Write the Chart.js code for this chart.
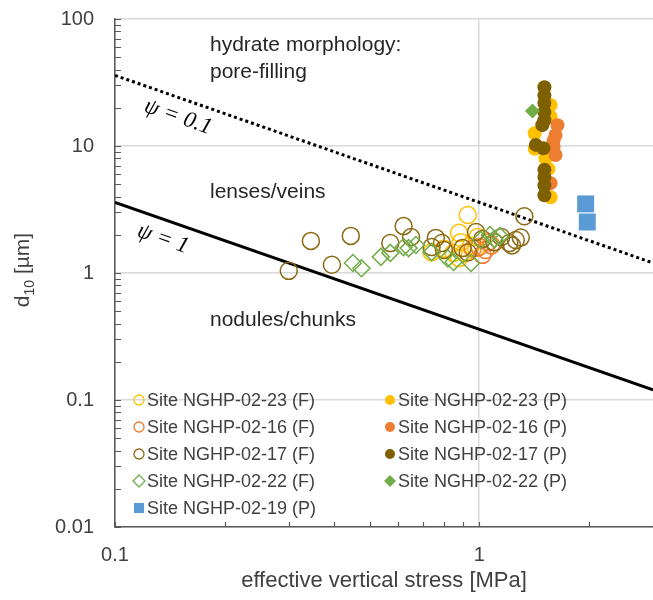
<!DOCTYPE html>
<html>
<head>
<meta charset="utf-8">
<script src="https://cdn.jsdelivr.net/npm/chart.js@4"></script>
<style>
  html, body { margin: 0; padding: 0; background: #fff; overflow: hidden; }
  #chart { display: block; }
</style>
</head>
<body>
<canvas id="chart" width="653" height="600"></canvas>
<script>
// [effective vertical stress (MPa), d10 (um)]
const site23F = [[0.93, 2.86], [0.88, 2.07], [0.89, 1.75], [0.74, 1.46], [0.85, 1.44], [0.88, 1.31],
                 [0.91, 1.44], [0.99, 1.92], [0.98, 1.57], [0.80, 1.55], [0.95, 1.65]];
const site23P = [[1.57, 21], [1.57, 17], [1.42, 12.6], [1.42, 9.5], [1.52, 8.0], [1.55, 6.6], [1.57, 3.95], [1.52, 5.0]];
const site16F = [[0.96, 1.55], [1.0, 1.6], [1.04, 1.52], [1.06, 1.75], [1.02, 1.39], [1.08, 1.65]];
const site16P = [[1.64, 14.6], [1.62, 12.2], [1.60, 9.8], [1.62, 8.5], [1.57, 5.1], [1.60, 11]];
const site17F = [[0.30, 1.04], [0.345, 1.79], [0.394, 1.16], [0.444, 1.96], [0.62, 2.34], [0.57, 1.72],
                 [0.65, 1.92], [0.76, 1.89], [0.79, 1.72], [0.74, 1.6], [0.80, 1.52], [0.90, 1.57],
                 [0.98, 2.1], [0.93, 1.45], [1.15, 1.92], [1.21, 1.72], [1.26, 1.82], [1.33, 2.8],
                 [1.30, 1.90], [1.23, 1.65], [1.10, 1.75], [1.02, 1.85]];
const site17P = [[1.51, 29], [1.51, 25], [1.51, 21.8], [1.51, 18.5], [1.51, 16], [1.49, 14.6], [1.43, 10.2],
                 [1.50, 9.6], [1.51, 6.5], [1.51, 5.7], [1.51, 4.9], [1.51, 4.1]];
const site22F = [[0.45, 1.2], [0.475, 1.09], [0.537, 1.34], [0.57, 1.44], [0.62, 1.6], [0.64, 1.57],
                 [0.67, 1.66], [0.74, 1.46], [0.85, 1.22], [0.95, 1.2], [1.01, 1.82], [1.07, 1.99],
                 [1.14, 1.95], [0.82, 1.3], [1.1, 1.85]];
const site22P = [[1.40, 18.9]];
const site19P = [[1.96, 3.5], [1.98, 2.52]];

// psi boundary lines (end points at the axis limits)
const psi1Line = [[0.1, 3.6], [3, 0.12]];
const psi01Line = [[0.1, 36], [3, 1.2]];

const xTickValues = [0.1, 0.2, 0.3, 0.4, 0.5, 0.6, 0.7, 0.8, 0.9, 1, 2, 3];
const yTickValues = [];
[0.01, 0.1, 1, 10].forEach(d => { for (let k = 1; k < 10; k++) yTickValues.push(+(d * k).toPrecision(2)); });
yTickValues.push(100);

const FONT = "'Liberation Sans', Arial, sans-serif";
const TEXT = '#404040';

const series = [
  { label: 'Site NGHP-02-23 (F)', data: site23F, color: '#FFC000', fill: false, style: 'circle' },
  { label: 'Site NGHP-02-23 (P)', data: site23P, color: '#FFC000', fill: true, style: 'circle' },
  { label: 'Site NGHP-02-16 (F)', data: site16F, color: '#ED7D31', fill: false, style: 'circle' },
  { label: 'Site NGHP-02-16 (P)', data: site16P, color: '#ED7D31', fill: true, style: 'circle' },
  { label: 'Site NGHP-02-17 (F)', data: site17F, color: '#8C6A14', fill: false, style: 'circle' },
  { label: 'Site NGHP-02-17 (P)', data: site17P, color: '#7F6000', fill: true, style: 'circle' },
  { label: 'Site NGHP-02-22 (F)', data: site22F, color: '#70AD47', fill: false, style: 'rectRot' },
  { label: 'Site NGHP-02-22 (P)', data: site22P, color: '#70AD47', fill: true, style: 'rectRot' },
  { label: 'Site NGHP-02-19 (P)', data: site19P, color: '#5B9BD5', fill: true, style: 'rect' },
];

const toXY = arr => arr.map(([x, y]) => ({ x, y }));
const isDecade = v => Math.abs(Math.log10(v) - Math.round(Math.log10(v))) < 1e-6;
const noPad = s => { s.paddingLeft = 0; s.paddingRight = 0; s.paddingTop = 0; s.paddingBottom = 0; };

function markerRadius(s) {
  if (s.style === 'rect') return 12;
  if (s.style === 'rectRot') return s.fill ? 7.5 : 8.5;
  return s.fill ? 7 : 8.5;
}

const datasets = series.map((s, i) => ({
  label: s.label,
  data: toXY(s.data),
  pointStyle: s.style,
  pointRadius: markerRadius(s),
  pointBorderWidth: s.fill ? 0 : 1.5,
  pointBorderColor: s.color,
  pointBackgroundColor: s.fill ? s.color : 'rgba(0,0,0,0)',
  showLine: false,
  order: 100 - i,
}));
datasets.push({
  label: 'psi=1', data: toXY(psi1Line), showLine: true, pointRadius: 0,
  borderColor: '#000', borderWidth: 3, order: 200,
});
datasets.push({
  label: 'psi=0.1', data: toXY(psi01Line), showLine: true, pointRadius: 0,
  borderColor: '#000', borderWidth: 3, borderDash: [3, 3], order: 201,
});

// plot area runs to the right edge; inward ticks, region labels, psi labels, y title, legend
const extras = {
  id: 'extras',
  afterLayout(chart) {
    const a = chart.chartArea, x = chart.scales.x;
    a.right = chart.width; a.width = a.right - a.left;
    x.right = chart.width; x.width = x.right - x.left;
    x.configure();
  },
  afterDraw(chart) {
    const { ctx, chartArea: a, scales: { x, y } } = chart;
    ctx.save();
    // ticks
    ctx.strokeStyle = '#595959';
    ctx.lineWidth = 1.2;
    ctx.beginPath();
    yTickValues.forEach(v => {
      const py = Math.round(y.getPixelForValue(v)) + 0.5;
      ctx.moveTo(a.left, py); ctx.lineTo(a.left + 6, py);
    });
    xTickValues.forEach(v => {
      const px = Math.round(x.getPixelForValue(v)) + 0.5;
      ctx.moveTo(px, a.bottom); ctx.lineTo(px, a.bottom - 5);
    });
    ctx.stroke();

    // region labels
    ctx.fillStyle = '#262626';
    ctx.font = '21px ' + FONT;
    ctx.textBaseline = 'middle';
    ctx.textAlign = 'left';
    ctx.fillText('hydrate morphology:', 210, 45);
    ctx.fillText('pore-filling', 210, 72);
    ctx.fillText('lenses/veins', 210, 192);
    ctx.fillText('nodules/chunks', 210, 320);

    // psi labels rotated along the lines
    const ang = Math.atan2(y.getPixelForValue(psi1Line[1][1]) - y.getPixelForValue(psi1Line[0][1]),
                           x.getPixelForValue(psi1Line[1][0]) - x.getPixelForValue(psi1Line[0][0]));
    ctx.font = "italic 23px 'Liberation Serif', 'DejaVu Serif', serif";
    ctx.fillStyle = '#000';
    ctx.textAlign = 'center';
    [['\u03C8 = 0.1', 178, 117], ['\u03C8 = 1', 163, 239]].forEach(([t, cx, cy]) => {
      ctx.save(); ctx.translate(cx, cy); ctx.rotate(ang); ctx.fillText(t, 0, 0); ctx.restore();
    });

    // y axis title with subscript
    ctx.save();
    ctx.translate(22, 270);
    ctx.rotate(-Math.PI / 2);
    ctx.fillStyle = TEXT;
    ctx.textAlign = 'left';
    ctx.textBaseline = 'alphabetic';
    const big = '21px ' + FONT, small = '14px ' + FONT;
    ctx.font = big; const wd = ctx.measureText('d').width; const wr = ctx.measureText(' [\u00B5m]').width;
    ctx.font = small; const ws = ctx.measureText('10').width;
    let sx = -(wd + ws + wr) / 2;
    ctx.font = big; ctx.fillText('d', sx, 7); sx += wd;
    ctx.font = small; ctx.fillText('10', sx, 12); sx += ws;
    ctx.font = big; ctx.fillText(' [\u00B5m]', sx, 7);
    ctx.restore();

    // legend: two columns
    const order = [0, 2, 4, 6, 8, 1, 3, 5, 7];
    const colX = [139, 390], rowY0 = 400, rowH = 27;
    ctx.font = '18px ' + FONT;
    ctx.textAlign = 'left';
    ctx.textBaseline = 'middle';
    order.forEach((si, k) => {
      const s = series[si];
      const col = k < 5 ? 0 : 1, row = k < 5 ? k : k - 5;
      const mx = colX[col], my = rowY0 + row * rowH;
      ctx.beginPath();
      if (s.style === 'circle') ctx.arc(mx, my, 5, 0, Math.PI * 2);
      else if (s.style === 'rectRot') { ctx.moveTo(mx, my - 6); ctx.lineTo(mx + 6, my); ctx.lineTo(mx, my + 6); ctx.lineTo(mx - 6, my); ctx.closePath(); }
      else ctx.rect(mx - 5, my - 5, 10, 10);
      if (s.fill) { ctx.fillStyle = s.color; ctx.fill(); }
      else { ctx.strokeStyle = s.color; ctx.lineWidth = 1.3; ctx.stroke(); }
      ctx.fillStyle = TEXT;
      ctx.fillText(s.label, mx + 8, my + 1);
    });
    ctx.restore();
  }
};

new Chart(document.getElementById('chart'), {
  type: 'scatter',
  data: { datasets },
  plugins: [extras],
  options: {
    responsive: false,
    animation: false,
    layout: { padding: { top: 19, right: 0, left: 0, bottom: 0 } },
    plugins: { legend: { display: false }, tooltip: { enabled: false } },
    scales: {
      x: {
        type: 'logarithmic', min: 0.1, max: 3, position: 'bottom',
        afterBuildTicks: s => { s.ticks = xTickValues.map(v => ({ value: v })); },
        afterFit: s => { s.height = 73; noPad(s); },
        ticks: {
          autoSkip: false, maxRotation: 0, padding: 16, color: TEXT,
          font: { family: FONT, size: 20 },
          callback: v => (isDecade(v) ? String(v) : ''),
        },
        grid: { drawTicks: false, lineWidth: 1.5, color: c => (c.tick && isDecade(c.tick.value) ? '#d9d9d9' : 'rgba(0,0,0,0)') },
        border: { color: '#595959', width: 1.5 },
        title: { display: true, text: 'effective vertical stress [MPa]', color: TEXT,
                 font: { family: FONT, size: 22 }, padding: { top: 0, bottom: 6 } },
      },
      y: {
        type: 'logarithmic', min: 0.01, max: 100,
        afterBuildTicks: s => { s.ticks = yTickValues.map(v => ({ value: v })); },
        afterFit: s => { s.width = 115; noPad(s); },
        ticks: {
          autoSkip: false, padding: 21, color: TEXT,
          font: { family: FONT, size: 20 },
          callback: v => (isDecade(v) ? String(v) : ''),
        },
        grid: { drawTicks: false, lineWidth: 1.5, color: c => (c.tick && isDecade(c.tick.value) ? '#d9d9d9' : 'rgba(0,0,0,0)') },
        border: { color: '#595959', width: 1.5 },
      },
    },
  },
});
</script>
</body>
</html>
